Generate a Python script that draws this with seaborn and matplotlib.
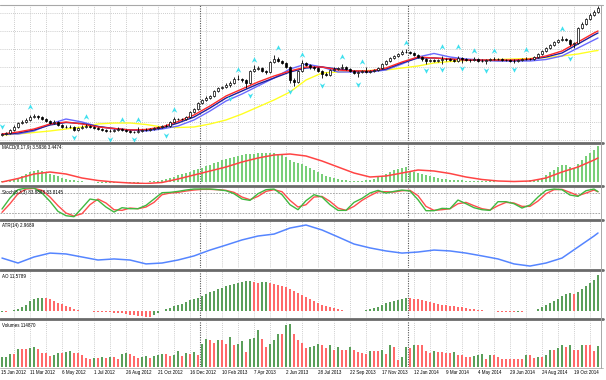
import numpy as np
import matplotlib
matplotlib.use("Agg")
import matplotlib.pyplot as plt
from matplotlib.path import Path
from matplotlib.lines import Line2D
from matplotlib.transforms import blended_transform_factory
import seaborn as sns

sns.set_theme(style="white")
plt.rcParams['font.family'] = ['Liberation Sans', 'DejaVu Sans']

# ---------------- data ----------------
date_labels = ["15 Jan 2012", "11 Mar 2012", "6 May 2012", "1 Jul 2012", "26 Aug 2012",
               "21 Oct 2012", "16 Dec 2012", "10 Feb 2013", "7 Apr 2013", "2 Jun 2013",
               "28 Jul 2013", "22 Sep 2013", "17 Nov 2013", "12 Jan 2014", "9 Mar 2014",
               "4 May 2014", "29 Jun 2014", "24 Aug 2014", "19 Oct 2014"]
label_bars = [-1, 7, 15, 23, 31, 39, 47, 55, 63, 71, 79, 87, 95, 103, 111, 119, 127, 135, 143]
year_start_bars = [50, 102]

closes = [21.7, 21.9, 22.8, 23.6, 24.7, 25.0, 25.5, 26.3, 26.6, 26.3,
          25.8, 25.2, 24.7, 25.0, 24.1, 23.6, 23.6, 23.6, 22.8, 23.3,
          23.6, 23.9, 23.6, 23.3, 23.0, 22.8, 22.5, 22.5, 22.8, 23.0,
          22.8, 22.5, 22.2, 22.2, 22.5, 22.8, 22.8, 23.0, 23.3, 23.6,
          23.9, 23.9, 25.0, 25.8, 25.8, 25.8, 26.3, 27.7, 28.5, 30.2,
          31.0, 31.6, 32.1, 33.5, 34.3, 34.6, 35.2, 35.7, 36.8, 36.8,
          36.5, 35.7, 39.0, 39.6, 39.8, 39.0, 38.7, 41.5, 42.3, 41.8,
          41.2, 40.1, 36.5, 36.0, 39.0, 41.2, 40.7, 40.1, 39.8, 39.0,
          38.2, 37.9, 39.3, 39.6, 39.8, 40.1, 39.6, 39.0, 38.5, 38.7,
          39.0, 38.7, 39.0, 39.3, 39.8, 40.9, 41.8, 42.6, 43.2, 43.7,
          44.3, 44.3, 44.0, 43.4, 42.9, 42.3, 41.8, 42.0, 41.8, 42.0,
          42.3, 42.3, 42.0, 41.8, 42.6, 42.3, 42.0, 42.0, 42.3, 41.8,
          41.8, 42.0, 42.3, 42.3, 42.3, 42.0, 42.0, 41.8, 41.8, 42.0,
          42.3, 42.3, 42.3, 42.9, 43.7, 44.5, 45.4, 46.2, 47.0, 47.6,
          47.8, 47.6, 46.5, 46.7, 50.9, 52.0, 53.3, 54.5, 55.3, 56.4]
first_open = 21.4
opens = [first_open] + closes[:-1]
highs = [22.0, 22.2, 23.1, 24.0, 25.0, 25.6, 26.0, 26.9, 27.2, 26.9,
         26.6, 26.0, 25.5, 25.4, 25.2, 24.4, 24.0, 24.0, 23.8, 23.6,
         24.0, 24.4, 24.1, 23.8, 23.5, 23.3, 23.0, 22.9, 23.1, 23.6,
         23.2, 23.0, 22.7, 22.6, 23.5, 23.1, 23.2, 23.3, 23.6, 23.9,
         24.2, 24.3, 25.3, 26.4, 26.1, 26.1, 26.6, 28.0, 28.9, 30.5,
         31.4, 32.0, 32.5, 33.8, 34.7, 35.0, 35.6, 36.2, 37.3, 37.9,
         37.2, 36.9, 39.4, 40.7, 40.3, 40.1, 39.3, 41.9, 43.5, 42.8,
         42.1, 41.5, 40.4, 37.2, 39.4, 42.0, 41.6, 41.0, 40.5, 40.1,
         39.3, 38.6, 39.7, 40.0, 40.2, 41.0, 40.4, 39.9, 39.2, 39.1,
         39.4, 40.0, 39.3, 39.6, 40.1, 41.2, 42.1, 42.9, 43.5, 44.0,
         44.7, 45.2, 44.6, 44.3, 43.7, 43.2, 42.6, 42.4, 42.3, 42.4,
         43.2, 42.7, 42.6, 42.3, 43.2, 42.9, 42.6, 42.4, 42.9, 42.5,
         42.2, 42.3, 42.6, 42.9, 42.6, 42.5, 42.4, 42.2, 42.2, 42.3,
         42.6, 42.9, 42.6, 43.2, 44.0, 44.8, 45.7, 46.5, 47.3, 47.9,
         48.7, 48.1, 47.9, 47.1, 51.2, 52.4, 53.7, 54.9, 55.8, 56.8]
lows = [21.1, 21.4, 21.7, 22.6, 23.4, 24.5, 24.8, 25.3, 26.0, 25.9,
        25.5, 24.9, 24.4, 24.4, 23.8, 23.2, 23.2, 23.3, 22.4, 22.5,
        23.0, 23.3, 23.3, 23.0, 22.7, 22.5, 22.1, 22.2, 22.2, 22.6,
        22.5, 22.2, 21.9, 21.9, 22.0, 22.3, 22.5, 22.6, 22.8, 23.1,
        23.3, 23.5, 23.7, 24.8, 25.4, 25.5, 25.5, 26.1, 27.4, 28.3,
        29.9, 30.8, 31.3, 31.9, 33.2, 34.0, 34.3, 34.6, 35.5, 36.4,
        36.0, 34.3, 35.4, 38.8, 39.3, 38.6, 38.2, 38.5, 41.2, 41.4,
        40.9, 39.8, 35.8, 35.0, 35.7, 38.8, 40.3, 39.7, 39.4, 38.6,
        37.0, 37.5, 37.6, 39.0, 39.3, 39.6, 39.3, 38.7, 38.2, 37.4,
        38.4, 38.4, 38.5, 38.8, 39.1, 39.6, 40.7, 41.6, 42.4, 43.0,
        43.5, 43.9, 43.7, 43.1, 42.6, 41.8, 40.9, 41.5, 41.4, 41.5,
        41.0, 41.9, 41.7, 41.4, 41.5, 41.2, 41.7, 41.6, 41.8, 41.5,
        41.4, 41.0, 41.8, 42.0, 42.0, 41.7, 41.7, 41.4, 41.2, 41.6,
        41.8, 42.0, 42.0, 42.1, 42.7, 43.5, 44.3, 45.2, 46.0, 46.8,
        47.3, 47.2, 45.9, 45.4, 46.5, 50.6, 51.8, 53.1, 54.2, 55.0]

# moving averages, read every 4th week
ma_bars = list(range(0, 149, 4)) + [149]
ma_red = [21.65, 22.20, 23.03, 24.41, 24.96, 24.41, 23.58, 23.17, 22.75, 22.89,
          23.58, 25.09, 26.89, 29.37, 32.12, 34.05, 35.98, 37.63, 39.01, 40.11,
          40.11, 39.29, 39.01, 39.01, 39.84, 41.49, 42.87, 42.60, 42.32, 42.04,
          42.04, 42.04, 42.04, 42.32, 43.15, 44.52, 47.00, 49.49, 50.04]
ma_navy = [21.51, 21.93, 22.75, 24.13, 24.82, 24.54, 23.72, 23.17, 22.75, 22.75,
           23.30, 24.68, 26.33, 28.82, 31.57, 33.50, 35.43, 37.08, 38.74, 39.84,
           40.11, 39.56, 39.01, 38.87, 39.56, 41.22, 42.60, 42.60, 42.32, 42.04,
           41.91, 41.91, 41.91, 42.18, 42.87, 43.97, 46.45, 48.93, 49.49]
ma_blue = [21.65, 21.65, 22.48, 24.41, 25.78, 24.96, 23.72, 23.03, 22.75, 22.48,
           23.03, 23.85, 25.51, 27.99, 30.74, 32.67, 34.88, 37.08, 39.56, 40.94,
           40.11, 38.74, 38.74, 38.74, 39.29, 40.94, 42.87, 43.84, 42.87, 42.32,
           42.04, 41.77, 41.77, 41.77, 42.18, 43.15, 45.35, 47.56, 48.11]
ma_yellow = [21.37, 21.65, 22.06, 22.48, 23.03, 23.58, 24.41, 24.68, 24.68, 24.27,
             23.58, 23.44, 23.58, 24.41, 25.51, 27.16, 29.09, 31.02, 33.22, 36.53,
             38.46, 38.74, 39.01, 39.15, 39.29, 39.84, 40.39, 41.22, 41.63, 41.91,
             42.04, 42.18, 42.32, 42.46, 42.73, 43.15, 43.70, 44.52, 44.66]

# fractal arrows
fr_up_bars = [7, 21, 30, 34, 43, 59, 63, 69, 75, 85, 90, 101, 110, 114, 118, 123, 131, 140]
fr_up_lvls = [29.1, 26.3, 25.5, 25.5, 28.3, 39.3, 42.0, 45.4, 43.4, 42.9, 41.5, 46.7,
              45.6, 45.6, 44.5, 44.5, 44.8, 50.6]
fr_dn_bars = [0, 18, 27, 33, 41, 57, 62, 72, 80, 89, 106, 110, 115, 121, 128, 142]
fr_dn_lvls = [23.9, 20.8, 20.3, 20.3, 21.4, 31.6, 32.4, 33.5, 35.2, 35.4, 39.3, 39.6,
              39.8, 39.3, 39.6, 42.6]

# MACD(8,17,9)
macd_main = [0.05, 0.1, 0.15, 0.25, 0.4, 0.6, 0.8, 1.0, 1.1, 1.2,
             1.1, 1.0, 0.8, 0.7, 0.6, 0.4, 0.3, 0.2, 0.15, 0.1,
             0.05, 0.0, -0.05, -0.05, -0.1, -0.1, -0.1, -0.15, -0.15, -0.1,
             -0.1, -0.1, -0.15, -0.15, -0.1, -0.05, 0.0, 0.05, 0.05, 0.1,
             0.15, 0.3, 0.4, 0.5, 0.65, 0.8, 0.9, 1.0, 1.15, 1.3,
             1.4, 1.6, 1.7, 1.9, 2.0, 2.2, 2.3, 2.4, 2.5, 2.6,
             2.7, 2.8, 2.8, 2.8, 2.9, 2.9, 2.9, 2.9, 2.9, 2.8,
             2.7, 2.5, 2.2, 2.0, 1.9, 1.8, 1.6, 1.4, 1.2, 1.0,
             0.8, 0.6, 0.5, 0.4, 0.3, 0.2, 0.2, 0.1, 0.1, 0.1,
             0.1, 0.15, 0.2, 0.3, 0.45, 0.6, 0.8, 1.0, 1.2, 1.3,
             1.4, 1.5, 1.1, 0.95, 0.85, 0.8, 0.7, 0.6, 0.45, 0.35,
             0.3, 0.25, 0.2, 0.2, 0.15, 0.15, 0.1, 0.1, 0.1, 0.05,
             0.05, 0.05, 0.05, 0.05, 0.0, 0.0, 0.0, 0.05, 0.05, 0.05,
             0.1, 0.1, 0.15, 0.2, 0.3, 0.4, 0.7, 1.0, 1.2, 1.5,
             1.7, 1.65, 1.5, 1.4, 1.8, 2.2, 2.6, 2.9, 3.2, 3.59]
macd_signal = [0.0, 0.35, 0.8, 1.0, 0.8, 0.4, 0.15, 0.0, -0.1, -0.15,
               -0.05, 0.3, 0.7, 1.1, 1.5, 2.0, 2.4, 2.7, 2.8, 2.6,
               2.1, 1.5, 0.9, 0.5, 0.6, 0.9, 1.2, 1.1, 0.85, 0.5,
               0.25, 0.1, 0.05, 0.1, 0.4, 1.0, 1.5, 2.2, 2.4]

# Stochastic(5,3,3), read every 2nd week
st_bars = list(range(0, 149, 2)) + [149]
st_main = [32, 65, 90, 95, 95, 80, 55, 25, 12, 9, 35, 62, 58, 38, 23, 36, 33, 33, 43, 62,
           81, 82, 85, 89, 92, 92, 92, 90, 87, 78, 62, 58, 78, 90, 92, 75, 45, 30, 57, 75,
           68, 45, 28, 28, 52, 64, 80, 88, 80, 85, 89, 86, 60, 27, 27, 34, 33, 59, 48, 36,
           30, 28, 54, 54, 48, 35, 44, 68, 88, 92, 90, 74, 70, 87, 92, 84]
st_signal = [22, 48, 78, 92, 94, 88, 68, 42, 20, 11, 18, 45, 62, 50, 30, 28, 35, 33, 38, 52,
             75, 80, 82, 86, 89, 91, 91, 90, 88, 82, 68, 60, 70, 85, 90, 84, 58, 38, 45, 68,
             70, 55, 35, 28, 40, 58, 72, 84, 84, 83, 87, 88, 72, 40, 28, 30, 33, 48, 52, 42,
             33, 29, 42, 52, 50, 40, 40, 56, 78, 90, 91, 82, 72, 80, 89, 84]
st_levels = [20, 80]

# ATR(14), read every 4th week
atr = [1.56, 1.28, 1.62, 1.84, 1.79, 1.62, 1.45, 1.51, 1.45, 1.23,
       1.28, 1.45, 1.68, 2.01, 2.29, 2.58, 2.80, 2.91, 3.25, 3.42,
       3.14, 2.75, 2.35, 2.13, 1.96, 1.84, 1.90, 2.01, 1.96, 1.84,
       1.68, 1.51, 1.23, 1.11, 1.28, 1.56, 2.18, 2.80, 2.97]

# Awesome oscillator
ao = [-0.32, -0.48, -0.16, 0.32, 0.80, 1.29, 1.93, 3.22, 3.86, 4.18,
      4.34, 4.18, 3.86, 3.22, 2.73, 2.25, 1.61, 1.13, 0.64, 0.32,
      0.16, 0.0, -0.16, -0.32, -0.32, -0.32, -0.48, -0.48, -0.64, -0.64,
      -0.80, -0.96, -1.13, -1.29, -1.45, -1.61, -1.77, -1.77, -1.29, -0.64,
      0.16, 0.64, 0.96, 1.45, 1.93, 2.41, 2.89, 3.38, 3.86, 4.34,
      4.82, 5.47, 6.11, 6.43, 7.08, 7.40, 8.04, 8.36, 8.68, 9.00,
      9.33, 9.49, 9.65, 9.33, 9.00, 9.17, 9.33, 9.00, 8.68, 8.36,
      8.04, 7.72, 7.08, 6.43, 5.79, 5.15, 4.50, 3.86, 3.22, 2.57,
      1.93, 1.61, 1.29, 0.96, 0.64, 0.32, 0.16, 0.0, 0.0, 0.0,
      0.16, 0.32, 0.64, 0.96, 1.29, 1.93, 2.57, 2.89, 3.22, 3.54,
      3.86, 4.18, 4.18, 4.02, 3.86, 3.54, 3.22, 2.89, 2.57, 2.25,
      1.93, 1.77, 1.61, 1.45, 1.29, 1.13, 0.96, 0.80, 0.64, 0.48,
      0.32, 0.16, 0.0, -0.16, -0.32, -0.32, -0.48, -0.48, -0.48, -0.32,
      -0.32, -0.16, 0.0, 0.16, 0.64, 1.29, 1.93, 2.57, 3.22, 3.86,
      4.82, 5.31, 5.63, 5.47, 6.11, 7.08, 8.04, 9.00, 9.97, 11.58]

volumes = [55000, 57000, 71000, 71000, 98000, 98000, 98000, 104000, 109000, 98000,
           77000, 77000, 60000, 66000, 77000, 77000, 82000, 88000, 77000, 77000,
           66000, 49000, 44000, 49000, 49000, 55000, 49000, 55000, 55000, 44000,
           71000, 77000, 71000, 60000, 49000, 55000, 60000, 49000, 60000, 66000,
           71000, 71000, 60000, 66000, 88000, 60000, 77000, 71000, 82000, 66000,
           126000, 153000, 148000, 131000, 148000, 148000, 126000, 164000, 120000, 126000,
           142000, 82000, 153000, 159000, 202000, 153000, 109000, 126000, 148000, 181000,
           181000, 230000, 235000, 181000, 148000, 131000, 104000, 109000, 115000, 126000,
           120000, 104000, 120000, 93000, 109000, 93000, 93000, 109000, 93000, 82000,
           77000, 71000, 88000, 88000, 88000, 93000, 71000, 120000, 109000, 38000,
           55000, 109000, 104000, 120000, 120000, 120000, 88000, 77000, 88000, 82000,
           82000, 77000, 77000, 82000, 66000, 66000, 55000, 55000, 60000, 66000,
           71000, 44000, 66000, 66000, 55000, 44000, 44000, 44000, 44000, 44000,
           44000, 66000, 66000, 49000, 55000, 55000, 66000, 93000, 93000, 104000,
           120000, 109000, 120000, 93000, 93000, 120000, 120000, 120000, 88000, 114870]

panel_labels = ["MACD(8,17,9) 3.5936 3.4474", "Stoch(5,3,3) 83.8888 83.8145",
                "ATR(14) 2.9689", "AO 11.5789", "Volumes 114870"]

# ---------------- figure ----------------
W, H = 606, 380
fig = plt.figure(figsize=(W / 100, H / 100), dpi=100)
fig.patch.set_facecolor("white")
RIGHT = 601

def add_panel(y0, y1):
    a = fig.add_axes([0, 1 - y1 / H, RIGHT / W, (y1 - y0) / H])
    a.set_xlim(-0.5, 149.75)
    a.axis("off")
    return a

n = len(closes)
idx = np.arange(n)
GRID = "#bcbcbc"
GREEN_BAR = "#5a9f5a"
RED_BAR = "#ff6a6a"

def vgrid(a):
    for b in range(3, n, 4):
        a.axvline(b, color=GRID, lw=0.6, ls=(0, (1, 1.5)), zorder=0)
    for b in year_start_bars:
        a.axvline(b - 0.5, color="#555555", lw=0.8, ls=(0, (1, 1.2)), zorder=0.5)

# --- main price panel ---
ax = add_panel(5, 141)
ax.set_ylim(19.72, 57.20)
vgrid(ax)
for p in range(20, 56, 5):
    ax.axhline(p, color=GRID, lw=0.6, ls=(0, (1, 1.5)), zorder=0)

for name, vals, col in [("yellow", ma_yellow, "#ffff22"), ("blue", ma_blue, "#6a6aff"),
                        ("navy", ma_navy, "#20209a"), ("red", ma_red, "#ff2a2a")]:
    sns.lineplot(x=ma_bars, y=vals, ax=ax, color=col, linewidth=1.0, zorder=2)

o = np.array(opens); c = np.array(closes)
ax.vlines(idx, lows, highs, color="black", lw=0.6, zorder=3)
body_lo = np.minimum(o, c)
body_h = np.maximum(np.abs(c - o), 0.08)
face = ["white" if cc >= oo else "black" for oo, cc in zip(o, c)]
ax.bar(idx, body_h, bottom=body_lo, width=0.62, color=face, edgecolor="black",
       linewidth=0.5, zorder=4)

up_marker = Path([(0, 1), (0.85, -0.7), (0, -0.15), (-0.85, -0.7), (0, 1)],
                 [Path.MOVETO, Path.LINETO, Path.LINETO, Path.LINETO, Path.CLOSEPOLY])
dn_marker = Path([(0, -1), (0.85, 0.7), (0, 0.15), (-0.85, 0.7), (0, -1)],
                 [Path.MOVETO, Path.LINETO, Path.LINETO, Path.LINETO, Path.CLOSEPOLY])
ax.scatter(fr_up_bars, fr_up_lvls, marker=up_marker, s=22, color="#3fe0ee", lw=0, zorder=5)
ax.scatter(fr_dn_bars, fr_dn_lvls, marker=dn_marker, s=22, color="#3fe0ee", lw=0, zorder=5)

# --- MACD ---
ax_m = add_panel(144.5, 184)
ax_m.set_ylim(-0.2, 3.75)
vgrid(ax_m)
ax_m.bar(idx, macd_main, width=0.38, color="#79cf79", linewidth=0, zorder=2)
sns.lineplot(x=ma_bars, y=macd_signal, ax=ax_m, color="#ff4444", linewidth=1.1, zorder=3)

# --- Stochastic ---
ax_s = add_panel(187.5, 218)
ax_s.set_ylim((219.7 - 218) / 0.3333, (219.7 - 187.5) / 0.3333)
vgrid(ax_s)
for lv in st_levels:
    ax_s.axhline(lv, color="#9a9a9a", lw=0.6, ls=(0, (2, 1.5)), zorder=1)
sns.lineplot(x=st_bars, y=st_main, ax=ax_s, color="#40b840", linewidth=1.0, zorder=3)
sns.lineplot(x=st_bars, y=st_signal, ax=ax_s, color="#ff4d4d", linewidth=1.0, zorder=2)

# --- ATR ---
ax_a = add_panel(221, 268)
ax_a.set_ylim(1.0, 1.0 + 47 * 0.0563)
vgrid(ax_a)
sns.lineplot(x=ma_bars, y=atr, ax=ax_a, color="#5585ff", linewidth=1.1, zorder=3)

# --- AO ---
ax_o = add_panel(271, 318)
ax_o.set_ylim(-7 * 0.3216, 40 * 0.3216)
vgrid(ax_o)
ao_arr = np.array(ao)
ao_col = [GREEN_BAR if (i == 0 or ao_arr[i] > ao_arr[i - 1]) else RED_BAR for i in range(n)]
ax_o.bar(idx, ao_arr, width=0.5, color=ao_col, linewidth=0, zorder=2)

# --- Volumes ---
ax_v = add_panel(320.5, 367)
ax_v.set_ylim(0, 254000)
vgrid(ax_v)
vol = np.array(volumes)
vol_col = [GREEN_BAR if (i == 0 or vol[i] > vol[i - 1]) else RED_BAR for i in range(n)]
ax_v.bar(idx, vol, width=0.5, color=vol_col, linewidth=0, zorder=2)

# --- separators and borders ---
def hline_px(y, lw, col):
    fig.add_artist(Line2D([0, 603 / W], [1 - y / H, 1 - y / H], lw=lw, color=col,
                          transform=fig.transFigure))

hline_px(4.5, 0.8, "#a8a8a8")
for ys in [142.6, 185.6, 219.6, 269.6, 319.3]:
    hline_px(ys, 2.0, "#6a6a6a")
hline_px(367.5, 0.6, "#b0b0b0")
fig.add_artist(Line2D([RIGHT / W, RIGHT / W], [1 - 367.5 / H, 1 - 4.5 / H], lw=0.7,
                      color="#a8a8a8", transform=fig.transFigure))

# --- texts ---
FS = 3.25
for lab, yc in zip(panel_labels, [148.0, 192.5, 225.5, 276.0, 325.8]):
    fig.text(1.5 / W, 1 - yc / H, lab, fontsize=FS, ha="left", va="center", color="black")

tr = blended_transform_factory(ax_v.transData, fig.transFigure)
for b, lab in zip(label_bars, date_labels):
    if b < 0:
        fig.text(1.0 / W, 1 - 372.5 / H, lab, fontsize=FS, ha="left", va="center",
                 color="black")
    else:
        ax_v.text(b, 1 - 372.5 / H, lab, transform=tr, fontsize=FS, ha="left",
                  va="center", color="black", clip_on=False)

fig.savefig("out.png", dpi=100)
